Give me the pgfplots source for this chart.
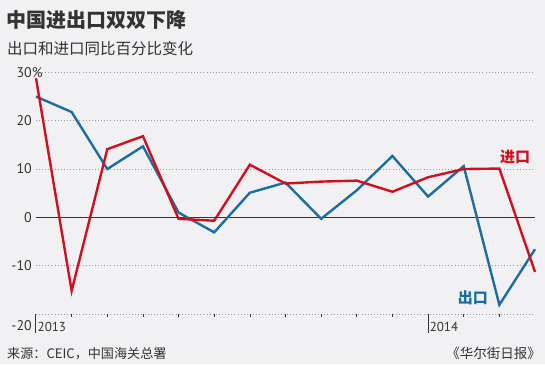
\documentclass[border=0pt]{standalone}
\usepackage{pgfplots}
\pgfplotsset{compat=1.18}
\usepackage{fontspec}
\setmainfont{Noto Sans CJK SC}
\newfontfamily\numfont{PT Sans}
\definecolor{bg}{HTML}{F1F1F3}
\definecolor{wsjred}{HTML}{D0101E}
\definecolor{wsjblue}{HTML}{1A6EA0}
\definecolor{gridc}{HTML}{9A9A9A}
\definecolor{titlec}{HTML}{333333}
\begin{document}
\begin{tikzpicture}
\fill[bg] (0pt,0pt) rectangle (545pt,364pt);
\useasboundingbox (0pt,0pt) rectangle (545pt,364pt);
\node[anchor=west, inner sep=0pt, text=titlec, font=\fontsize{20}{20}\selectfont\bfseries] at (6pt,344pt) {中国进出口双双下降};
\node[anchor=west, inner sep=0pt, text=titlec, font=\fontsize{15.5}{15.5}\selectfont] at (7pt,315.5pt) {出口和进口同比百分比变化};
\node[anchor=west, inner sep=0pt, text=titlec, font=\fontsize{13.1}{13.1}\selectfont] at (7pt,10.5pt) {来源：CEIC，中国海关总署};
\node[anchor=east, inner sep=0pt, text=titlec, font=\fontsize{13.5}{13.5}\selectfont] at (541pt,10.5pt) {《华尔街日报》};
\begin{axis}[
  at={(36pt,50pt)}, anchor=south west, scale only axis,
  width=499pt, height=241.6pt,
  xmin=0, xmax=14, ymin=-20, ymax=30,
  clip=false,
  axis line style={draw=none},
  ytick={-20,-10,0,10,20,30},
  yticklabels={,-10,0,10,20,30\rlap{\%}},
  ymajorgrids,
  grid style={gridc, line width=0.8pt, dash pattern=on 0.9pt off 2.2pt},
  yticklabel style={font=\numfont\fontsize{14}{14}\selectfont, text=titlec, anchor=east, inner sep=0pt, xshift=-4pt},
  ytick style={draw=none},
  xtick={1,2,3,4,5,6,7,8,9,10,12,13},
  xticklabels={},
  xtick pos=bottom, xtick align=outside,
  major tick length=3pt,
  xtick style={draw=titlec, line width=0.6pt},
]
\draw[titlec, line width=0.9pt] (axis cs:0,0) -- (axis cs:14,0);
\draw[titlec, line width=1pt] (axis cs:0,-20) -- ([yshift=-19pt]axis cs:0,-20);
\draw[titlec, line width=1pt] (axis cs:11,-20) -- ([yshift=-19pt]axis cs:11,-20);
\node[anchor=west, inner sep=1.5pt, text=titlec, font=\numfont\fontsize{13}{13}\selectfont] at ([yshift=-13pt]axis cs:0,-20) {2013};
\node[anchor=west, inner sep=1.5pt, text=titlec, font=\numfont\fontsize{13}{13}\selectfont] at ([yshift=-13pt]axis cs:11,-20) {2014};
\node[anchor=east, inner sep=0pt, text=titlec, font=\numfont\fontsize{14}{14}\selectfont] at ([xshift=-4pt,yshift=-12pt]axis cs:0,-20) {-20};
\addplot[wsjblue, line width=2.4pt] coordinates {
(0,25.0) (1,21.8) (2,10.0) (3,14.7) (4,1.0) (5,-3.1) (6,5.1) (7,7.2)
(8,-0.3) (9,5.6) (10,12.7) (11,4.3) (12,10.6) (13,-18.1) (14,-6.6)};
\addplot[wsjred, line width=2.4pt] coordinates {
(0,28.8) (1,-15.2) (2,14.1) (3,16.8) (4,-0.3) (5,-0.7) (6,10.9) (7,7.0)
(8,7.4) (9,7.6) (10,5.3) (11,8.3) (12,10.0) (13,10.1) (14,-11.3)};
\node[text=wsjred, inner sep=0pt, font=\fontsize{15}{15}\selectfont\bfseries] at (axis cs:13.44,12.6) {进口};
\node[text=wsjblue, inner sep=0pt, font=\fontsize{15}{15}\selectfont\bfseries] at (axis cs:12.26,-16.7) {出口};
\end{axis}
\end{tikzpicture}
\end{document}
